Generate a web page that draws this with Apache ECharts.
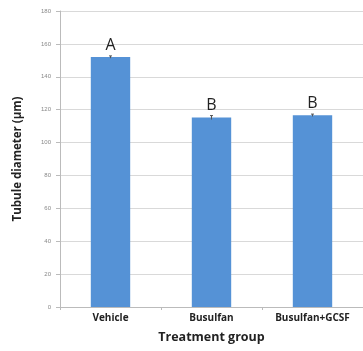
<!DOCTYPE html>
<html><head><meta charset="utf-8">
<script src="https://cdn.jsdelivr.net/npm/echarts@6/dist/echarts.min.js"></script>
<style>html,body{margin:0;padding:0;background:#fff}#c{width:363px;height:351px}</style>
</head><body><div id="c"></div>
<script>
const categories = ['Vehicle', 'Busulfan', 'Busulfan+GCSF'];
const values = [152, 115.2, 116.6];
const errors = [0.7, 1.2, 0.7];
const letters = ['A', 'B', 'B'];
const yTicks = [0, 20, 40, 60, 80, 100, 120, 140, 160, 180];

const chart = echarts.init(document.getElementById('c'));
chart.setOption({
  animation: false,
  grid: {left: 60, right: -3, top: 11, bottom: 44, containLabel: false},
  xAxis: {
    type: 'category', data: categories,
    name: 'Treatment group', nameLocation: 'middle', nameGap: 24,
    nameTextStyle: {fontFamily: 'Open Sans', fontWeight: 'bold', fontSize: 12.5, color: '#222'},
    axisLine: {lineStyle: {color: '#bbb'}},
    axisTick: {show: true, length: 3, lineStyle: {color: '#bbb'}},
    axisLabel: {fontFamily: 'Open Sans', fontWeight: 'bold', fontSize: 10, color: '#222', margin: 6}
  },
  yAxis: {
    type: 'value', min: 0, max: 180, interval: 20,
    name: 'Tubule diameter (µm)', nameLocation: 'middle', nameGap: 36, nameRotate: 90,
    nameTextStyle: {fontFamily: 'Open Sans', fontWeight: 'bold', fontSize: 11.5, color: '#222'},
    axisLine: {show: true, lineStyle: {color: '#bbb'}},
    axisTick: {show: true, length: 4, lineStyle: {color: '#bbb'}},
    axisLabel: {fontSize: 6, color: '#888', margin: 9, formatter: v => yTicks.includes(v) ? String(v) : ''},
    splitLine: {lineStyle: {color: '#d9d9d9'}}
  },
  series: [{
    type: 'bar', data: values, barWidth: '39%',
    itemStyle: {color: '#5592d6'},
    label: {show: true, position: 'top', distance: 4, formatter: p => letters[p.dataIndex],
      fontFamily: 'Open Sans', fontSize: 16, color: '#222'}
  }, {
    type: 'custom',
    data: values.map((v, i) => [i, v - errors[i], v + errors[i]]),
    renderItem: (params, api) => {
      const lo = api.coord([api.value(0), api.value(1)]);
      const hi = api.coord([api.value(0), api.value(2)]);
      const x = lo[0], w = 1.5;
      const st = {stroke: '#555', lineWidth: 1};
      return {type: 'group', children: [
        {type: 'line', shape: {x1: x, y1: lo[1], x2: x, y2: hi[1]}, style: st},
        {type: 'line', shape: {x1: x - w, y1: hi[1], x2: x + w, y2: hi[1]}, style: st}
      ]};
    },
    z: 10
  }]
});
</script></body></html>
